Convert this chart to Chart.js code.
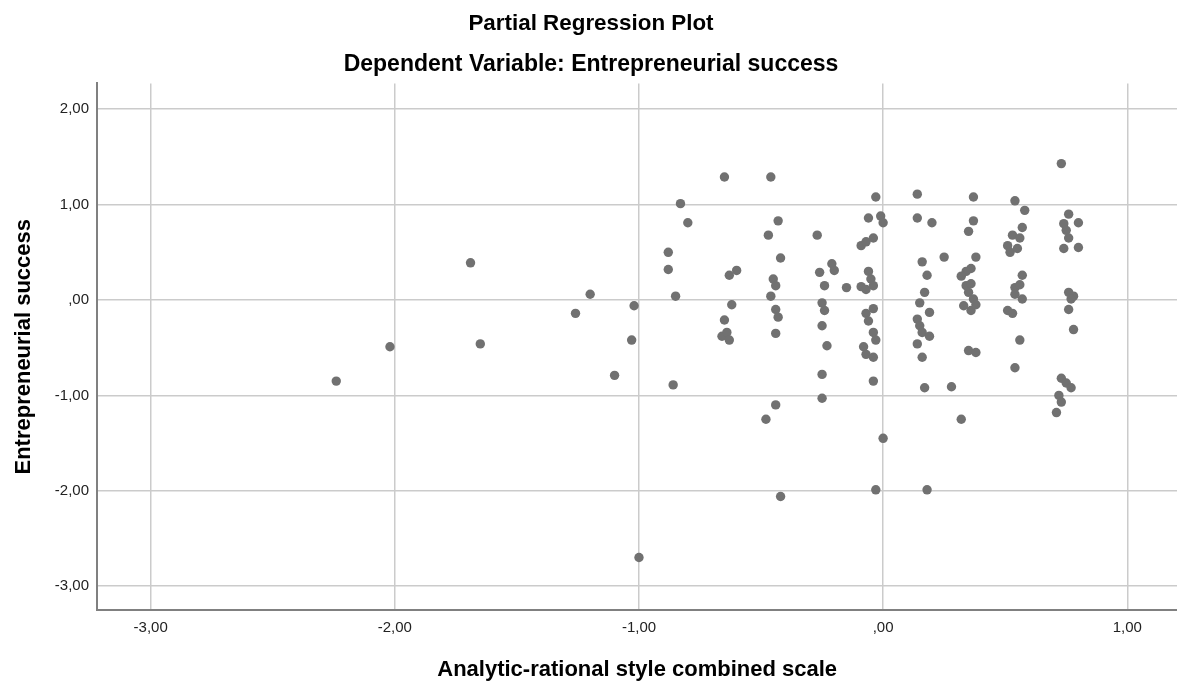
<!DOCTYPE html>
<html>
<head>
<meta charset="utf-8">
<script src="https://cdn.jsdelivr.net/npm/chart.js@4.4.1/dist/chart.umd.min.js"></script>
<style>
  body { margin: 0; background: #fff; overflow: hidden; }
</style>
</head>
<body>
<!-- a few px wider than the window so the plot runs to the right edge -->
<canvas id="plot" width="1182" height="684"></canvas>
<script>
const xTicks = [-3, -2, -1, 0, 1];
const yTicks = [-3, -2, -1, 0, 1, 2];

// residuals of analytic-rational style (x) and entrepreneurial success (y)
const xValues = [
  -2.24, -2.02, -1.69, -1.65, -1.26, -1.20, -1.10, -1.03, -1.02, -1.00,
  -0.88, -0.88, -0.85, -0.86, -0.83, -0.80, -0.65, -0.65, -0.66, -0.64,
  -0.63, -0.63, -0.60, -0.62, -0.48, -0.47, -0.46, -0.46, -0.45, -0.44,
  -0.44, -0.43, -0.44, -0.44, -0.43, -0.42, -0.42, -0.27, -0.26, -0.24,
  -0.25, -0.24, -0.25, -0.23, -0.25, -0.25, -0.21, -0.20, -0.15, -0.09,
  -0.07, -0.09, -0.07, -0.04, -0.06, -0.03, -0.01, 0.00, -0.06, -0.05,
  -0.04, -0.04, -0.07, -0.06, -0.04, -0.03, -0.08, -0.07, -0.04, -0.04,
  0.00, -0.03, 0.14, 0.14, 0.20, 0.16, 0.25, 0.18, 0.17, 0.15,
  0.19, 0.14, 0.15, 0.16, 0.19, 0.14, 0.16, 0.17, 0.18, 0.28,
  0.32, 0.37, 0.37, 0.35, 0.38, 0.36, 0.34, 0.32, 0.34, 0.36,
  0.35, 0.37, 0.33, 0.36, 0.38, 0.35, 0.38, 0.54, 0.58, 0.57,
  0.53, 0.56, 0.51, 0.52, 0.55, 0.57, 0.54, 0.56, 0.54, 0.57,
  0.51, 0.53, 0.56, 0.54, 0.73, 0.76, 0.74, 0.80, 0.75, 0.76,
  0.74, 0.80, 0.76, 0.78, 0.77, 0.76, 0.78, 0.73, 0.75, 0.77,
  0.72, 0.73, 0.71
];
const yValues = [
  -0.85, -0.49, 0.39, -0.46, -0.14, 0.06, -0.79, -0.42, -0.06, -2.70,
  0.32, 0.50, 0.04, -0.89, 1.01, 0.81, 1.29, -0.21, -0.38, -0.34,
  -0.42, 0.26, 0.31, -0.05, -1.25, 0.68, 1.29, 0.04, 0.22, 0.15,
  -0.10, -0.18, -0.35, -1.10, 0.83, 0.44, -2.06, 0.68, 0.29, 0.15,
  -0.03, -0.11, -0.27, -0.48, -0.78, -1.03, 0.38, 0.31, 0.13, 0.14,
  0.11, 0.57, 0.61, 0.65, 0.86, 1.08, 0.88, 0.81, 0.30, 0.22,
  0.15, -0.09, -0.14, -0.22, -0.34, -0.42, -0.49, -0.57, -0.60, -0.85,
  -1.45, -1.99, 1.11, 0.86, 0.81, 0.40, 0.45, 0.26, 0.08, -0.03,
  -0.13, -0.20, -0.27, -0.34, -0.38, -0.46, -0.60, -0.92, -1.99, -0.91,
  -1.25, 1.08, 0.83, 0.72, 0.45, 0.33, 0.30, 0.25, 0.15, 0.17,
  0.08, 0.01, -0.06, -0.11, -0.05, -0.53, -0.55, 1.04, 0.94, 0.76,
  0.68, 0.65, 0.57, 0.50, 0.54, 0.26, 0.13, 0.16, 0.06, 0.01,
  -0.11, -0.14, -0.42, -0.71, 1.43, 0.90, 0.80, 0.81, 0.73, 0.65,
  0.54, 0.55, 0.08, 0.04, 0.01, -0.10, -0.31, -0.82, -0.87, -0.92,
  -1.00, -1.07, -1.18
];

const points = xValues.map((x, i) => ({ x: x, y: yValues[i] }));

// SPSS style numbers: 1,00  ,00  -2,00
const fmt = v => v === 0 ? ',00' : v.toFixed(2).replace('.', ',');

const font = 'Liberation Sans, Arial, sans-serif';

const ctx = document.getElementById('plot');

new Chart(ctx, {
  type: 'scatter',
  data: {
    datasets: [{
      data: points,
      backgroundColor: '#717171',
      borderWidth: 0,
      pointRadius: 4.7,
      pointHoverRadius: 4.7
    }]
  },
  options: {
    responsive: false,
    animation: false,
    layout: { padding: 0 },
    plugins: {
      legend: { display: false },
      tooltip: { enabled: false },
      title: {
        display: true,
        text: 'Partial Regression Plot',
        color: '#000',
        font: { family: font, size: 22.4, weight: 'bold' },
        padding: { top: 10, bottom: 14 }
      },
      subtitle: {
        display: true,
        text: 'Dependent Variable: Entrepreneurial success',
        color: '#000',
        font: { family: font, size: 23, weight: 'bold' },
        padding: { top: 0, bottom: 5 }
      }
    },
    scales: {
      x: {
        type: 'linear',
        min: -3.22,
        max: 1.205,
        afterBuildTicks: s => { s.ticks = xTicks.map(v => ({ value: v })); },
        afterFit: s => { s.height = 74; },
        ticks: {
          callback: fmt,
          color: '#222',
          padding: 9,
          maxRotation: 0,
          font: { family: font, size: 15 }
        },
        grid: { color: '#cbcbcb', lineWidth: 1.5, drawTicks: false },
        border: { display: true, color: '#808080', width: 2 },
        title: {
          display: true,
          text: 'Analytic-rational style combined scale',
          color: '#000',
          font: { family: font, size: 22, weight: 'bold' },
          padding: { top: 0, bottom: 1 }
        }
      },
      y: {
        type: 'linear',
        min: -3.25,
        max: 2.27,
        afterBuildTicks: s => { s.ticks = yTicks.map(v => ({ value: v })); },
        afterFit: s => { s.width = 97; },
        ticks: {
          callback: fmt,
          color: '#222',
          padding: 8,
          font: { family: font, size: 15 }
        },
        grid: { color: '#cbcbcb', lineWidth: 1.5, drawTicks: false },
        border: { display: true, color: '#808080', width: 2 },
        title: {
          display: true,
          text: 'Entrepreneurial success',
          color: '#000',
          font: { family: font, size: 22, weight: 'bold' },
          padding: { top: 11, bottom: 0 }
        }
      }
    }
  }
});
</script>
</body>
</html>
